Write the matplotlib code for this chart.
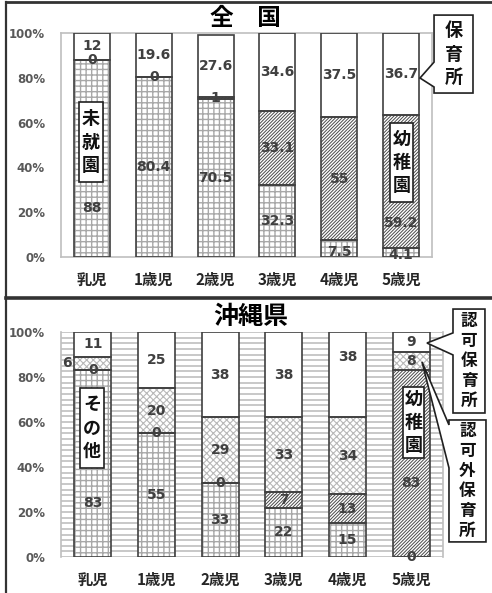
import matplotlib
matplotlib.use("Agg")
import matplotlib.pyplot as plt
from matplotlib.patches import Rectangle, Polygon
from matplotlib.lines import Line2D
import numpy as np

plt.rcParams['font.family'] = ['Noto Sans CJK JP', 'DejaVu Sans']
plt.rcParams['hatch.linewidth'] = 0.8

ages = ['乳児', '1歳児', '2歳児', '3歳児', '4歳児', '5歳児']
yticks = [0, 20, 40, 60, 80, 100]
ytick_labels = ['0%', '20%', '40%', '60%', '80%', '100%']

# 全国 (%)
nat_mishuen = [88, 80.4, 70.5, 32.3, 7.5, 4.1]
nat_youchien = [0, 0, 1, 33.1, 55, 59.2]
nat_hoikusho = [12, 19.6, 27.6, 34.6, 37.5, 36.7]

# 沖縄県 (%)
oki_sonota = [83, 55, 33, 22, 15, 0]
oki_youchien = [0, 0, 0, 7, 13, 83]
oki_ninkagai = [6, 20, 29, 33, 34, 8]
oki_ninka = [11, 25, 38, 38, 38, 9]

W, H = 492, 593
fig = plt.figure(figsize=(W / 100, H / 100), dpi=100)

EDGE = '#404040'
LABEL_C = '#404040'
STYLE_GRID = dict(color='white', hatch='+++', hcolor='#a8a8a8', hlw=1.0)
STYLE_DIAG = dict(color='white', hatch='/' * 10, hcolor='#4a4a4a', hlw=0.7)
STYLE_DOTS = dict(color='white', hatch='xxxxx', hcolor='#b8b8b8', hlw=0.8)
STYLE_WHITE = dict(color='white', hatch=None, hcolor=EDGE, hlw=0.8)

BAR_W = 0.58


def fpx(x, y):
    return x / W, 1 - y / H


def draw_stack(ax, series, styles, label_pos, label_dx):
    x = np.arange(len(ages))
    bottom = np.zeros(len(ages))
    for si, (vals, st) in enumerate(zip(series, styles)):
        vals = np.asarray(vals, dtype=float)
        with plt.rc_context({'hatch.linewidth': st['hlw']}):
            bars = ax.bar(x, vals, bottom=bottom, width=BAR_W,
                          color=st['color'], hatch=st['hatch'],
                          edgecolor=st['hcolor'], linewidth=0, zorder=2)
        for r in bars:
            if hasattr(r, 'set_hatch_linewidth'):
                r.set_hatch_linewidth(st['hlw'])
        ax.bar(x, vals, bottom=bottom, width=BAR_W, fill=False,
               edgecolor=EDGE, linewidth=1.2, zorder=3)
        for ci, v in enumerate(vals):
            yy = label_pos.get((si, ci), bottom[ci] + v / 2)
            xx = x[ci] + label_dx.get((si, ci), 0)
            ax.text(xx, yy, f'{v:g}', ha='center', va='center',
                    fontsize=10, fontweight='bold', color=LABEL_C,
                    family='DejaVu Sans', zorder=6)
        bottom = bottom + vals


def style_axes(ax):
    ax.set_xlim(-0.5, 5.5)
    ax.set_ylim(0, 100)
    ax.set_yticks(yticks)
    ax.set_yticklabels(ytick_labels, fontsize=8.5, fontweight='bold',
                       color='#595959', family='DejaVu Sans')
    ax.set_xticks(np.arange(len(ages)))
    ax.set_xticklabels(ages, fontsize=11, fontweight='bold', color='#262626')
    ax.tick_params(axis='both', length=0)
    ax.tick_params(axis='y', pad=11.5)
    ax.tick_params(axis='x', pad=11)


def vbox(ax, xc, y0, y1, hw, text, fs=13, ls=1.3):
    ax.add_patch(Rectangle((xc - hw, y0), 2 * hw, y1 - y0, facecolor='white',
                           edgecolor='#202020', linewidth=1.2, zorder=7,
                           clip_on=False))
    ax.text(xc, (y0 + y1) / 2, '\n'.join(text), ha='center', va='center',
            fontsize=fs, linespacing=ls, color='#111111', fontweight='bold',
            zorder=8)


def callout(ax, xl, xr, yt, yb, ya, yb2, tip, text, fs=13, ls=1.3):
    pts = [(xl, yt), (xr, yt), (xr, yb), (xl, yb), (xl, yb2), tip, (xl, ya)]
    ax.add_patch(Polygon(pts, closed=True, facecolor='white',
                         edgecolor='#202020', linewidth=1.2, zorder=7,
                         clip_on=False))
    ax.text((xl + xr) / 2, (yt + yb) / 2, '\n'.join(text), ha='center',
            va='center', fontsize=fs, linespacing=ls, color='#111111',
            fontweight='bold', zorder=8)


# ---------- 全国 ----------
ax1 = fig.add_axes([61 / W, 1 - 257 / H, (432 - 61) / W, (257 - 33) / H])
for s in ax1.spines.values():
    s.set_color('#bfbfbf')
    s.set_linewidth(1.2)
style_axes(ax1)
draw_stack(ax1, [nat_mishuen, nat_youchien, nat_hoikusho],
           [STYLE_GRID, STYLE_DIAG, STYLE_WHITE],
           {(0, 0): 22, (0, 4): 2.4, (0, 5): 0.8, (1, 5): 15},
           {})
vbox(ax1, -0.015, 33.5, 69.2, 0.19, '未就園')
vbox(ax1, 5.007, 24.6, 59.8, 0.186, '幼稚園')
callout(ax1, 5.533, 6.163, 108.0, 73.2, 87.0, 75.9, (5.306, 79.9), '保育所')

fig.text(245 / W, 1 - 18 / H, '全\u3000国', ha='center', va='center',
         fontsize=17, fontweight='bold', color='black')

# ---------- 沖縄県 ----------
ax2 = fig.add_axes([61 / W, 1 - 557 / H, (443 - 61) / W, (557 - 332) / H])
for k, s in ax2.spines.items():
    s.set_color('#bfbfbf')
    s.set_linewidth(1.2)
    if k in ('top', 'bottom'):
        s.set_visible(False)
for v in np.arange(0, 100.01, 2.5):
    ax2.axhline(v, color='#c4c4c4', linewidth=1.3, zorder=0)
style_axes(ax2)
draw_stack(ax2, [oki_sonota, oki_youchien, oki_ninkagai, oki_ninka],
           [STYLE_GRID, STYLE_DIAG, STYLE_DOTS, STYLE_WHITE],
           {(0, 0): 24, (1, 5): 33, (3, 4): 89, (2, 0): 86},
           {(2, 0): -0.41})
vbox(ax2, -0.013, 39.6, 75.1, 0.19, 'その他')
vbox(ax2, 5.036, 44.0, 75.6, 0.165, '幼稚園')
callout(ax2, 5.657, 6.159, 110.2, 64.0, 99.6, 89.8, (5.248, 95.1), '認可保育所',
        fs=12, ls=1.15)
callout(ax2, 5.594, 6.175, 60.9, 6.7, 58.7, 39.6, (5.17, 86.7), '認可外保育所',
        fs=12, ls=1.15)

fig.text(251 / W, 1 - 317 / H, '沖縄県', ha='center', va='center',
         fontsize=18, fontweight='bold', color='black')

# ---------- panel frames ----------
frame = [((6, 2), (W, 2), 2.0), ((6, 2), (6, H), 1.6), ((6, 297.5), (W, 297.5), 2.6)]
for (x0, y0), (x1, y1), lw in frame:
    a = fpx(x0, y0)
    b = fpx(x1, y1)
    fig.add_artist(Line2D([a[0], b[0]], [a[1], b[1]], color='#333333',
                          linewidth=lw, transform=fig.transFigure))

fig.savefig('out.png', dpi=100)
